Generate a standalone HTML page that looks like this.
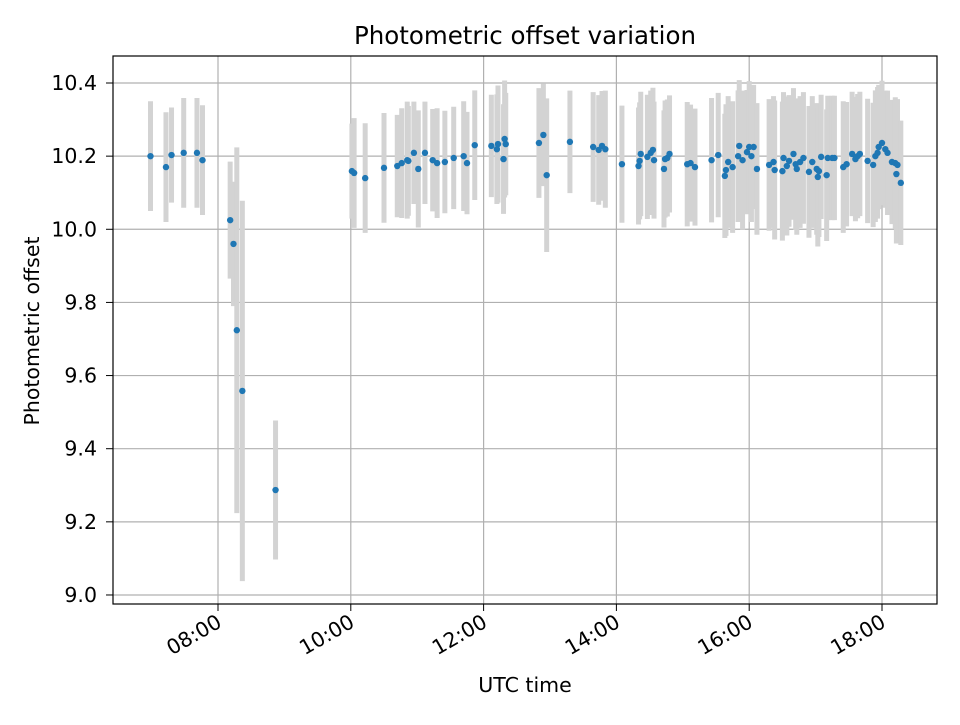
<!DOCTYPE html>
<html><head><meta charset="utf-8"><style>
body{margin:0;background:#fff;font-family:"Liberation Sans","DejaVu Sans",sans-serif}
</style></head><body>
<svg id="chart" width="960" height="720" xmlns="http://www.w3.org/2000/svg" font-family="DejaVu Sans, Liberation Sans, sans-serif"></svg>
<script>
const times=["06:59","07:13","07:18","07:29","07:41","07:46","08:11","08:14","08:17","08:22","08:52",
"10:01","10:03","10:13","10:30","10:42","10:46","10:51","10:52","10:57","11:01","11:07","11:14","11:18","11:25","11:33","11:42","11:45","11:52","12:07","12:12","12:13","12:19","12:20","12:18","12:50","12:54","12:57","13:18","13:39","13:44","13:47","13:50","14:05",
"14:20","14:21","14:22","14:28","14:31","14:33","14:34","14:43","14:44","14:46","14:48","15:04","15:07","15:11","15:26","15:32","15:38","15:39","15:41","15:45","15:50","15:51","15:54","15:58","16:00","16:02","16:04","16:07","16:18","16:22","16:23","16:30","16:31","16:34","16:36","16:40","16:42","16:43","16:46","16:49","16:54","16:57","17:01","17:02","17:03","17:05","17:10","17:11","17:15","17:17","17:25","17:28","17:33","17:36","17:38","17:40","17:47","17:52","17:54","17:56","17:57","18:00","18:03","18:05","18:09","18:12","18:14","18:13","18:17"];
const values=[10.200,10.170,10.203,10.209,10.209,10.189,10.025,9.960,9.724,9.558,9.287,
10.159,10.154,10.140,10.168,10.173,10.181,10.189,10.187,10.209,10.165,10.209,10.189,10.181,10.184,10.195,10.200,10.181,10.230,10.228,10.219,10.233,10.247,10.233,10.192,10.236,10.258,10.148,10.239,10.225,10.217,10.228,10.219,10.178,
10.173,10.187,10.206,10.198,10.209,10.217,10.189,10.165,10.192,10.195,10.206,10.178,10.181,10.170,10.189,10.203,10.146,10.162,10.184,10.170,10.200,10.228,10.189,10.211,10.225,10.200,10.225,10.165,10.176,10.184,10.162,10.159,10.195,10.173,10.187,10.206,10.178,10.165,10.184,10.195,10.157,10.184,10.165,10.143,10.159,10.198,10.148,10.195,10.195,10.195,10.170,10.178,10.206,10.192,10.200,10.206,10.187,10.176,10.200,10.209,10.225,10.236,10.219,10.209,10.184,10.181,10.176,10.151,10.127];
const errors=[0.15,0.15,0.13,0.15,0.15,0.15,0.16,0.17,0.50,0.52,0.19,
0.13,0.15,0.15,0.15,0.14,0.15,0.16,0.15,0.14,0.16,0.14,0.14,0.15,0.14,0.14,0.15,0.14,0.15,0.14,0.15,0.16,0.16,0.14,0.15,0.15,0.14,0.21,0.14,0.15,0.15,0.15,0.16,0.16,
0.16,0.16,0.17,0.17,0.17,0.17,0.16,0.16,0.16,0.16,0.16,0.17,0.16,0.16,0.17,0.17,0.17,0.18,0.18,0.18,0.18,0.18,0.19,0.17,0.18,0.18,0.17,0.18,0.18,0.18,0.19,0.19,0.18,0.19,0.18,0.18,0.18,0.18,0.18,0.18,0.18,0.18,0.18,0.19,0.18,0.17,0.18,0.17,0.17,0.17,0.18,0.17,0.17,0.17,0.17,0.17,0.17,0.17,0.18,0.18,0.17,0.17,0.16,0.17,0.17,0.18,0.18,0.19,0.17];
const yTicks=[9.0,9.2,9.4,9.6,9.8,10.0,10.2,10.4];
const xTickLabels=["08:00","10:00","12:00","14:00","16:00","18:00"];

const svg=document.getElementById('chart');
const NS="http://www.w3.org/2000/svg";
const L=113,R=937,T=56,B=604;
function toH(s){const p=s.split(':');return +p[0]+(+p[1])/60;}
function xs(h){return 218+(h-8)*66.4;}
function ys(v){return 83+(10.4-v)*365.7;}
function mk(tag,attrs,parent){const e=document.createElementNS(NS,tag);for(const k in attrs)e.setAttribute(k,attrs[k]);(parent||svg).appendChild(e);return e;}

const grid=mk('g',{});


yTicks.forEach(v=>{mk('line',{x1:L,x2:R,y1:ys(v),y2:ys(v),stroke:'#b0b0b0','stroke-width':1.2},grid);});
xTickLabels.forEach(s=>{const x=xs(toH(s));mk('line',{x1:x,x2:x,y1:T,y2:B,stroke:'#b0b0b0','stroke-width':1.2},grid);});

const eb=mk('g',{});


times.forEach((t,i)=>{const x=xs(toH(t));
 const l=mk('line',{x1:x,x2:x,y1:ys(values[i]+errors[i]),y2:ys(values[i]-errors[i]),stroke:'#d3d3d3','stroke-width':5},eb);
 
 });
const pts=mk('g',{});


times.forEach((t,i)=>{const c=mk('circle',{cx:xs(toH(t)),cy:ys(values[i]),r:3.2,fill:'#1f77b4'},pts);
 
 });

const frame=mk('rect',{x:L,y:T,width:R-L,height:B-T,fill:'none',stroke:'#000','stroke-width':1.2});



const ya=mk('g',{});


yTicks.forEach(v=>{const y=ys(v);mk('line',{x1:L-7,x2:L,y1:y,y2:y,stroke:'#000'},ya);
 const tx=mk('text',{x:L-16,y:y+7,'text-anchor':'end','font-size':20.5},ya);tx.textContent=v.toFixed(1);
 
 });
const xa=mk('g',{});


xTickLabels.forEach(s=>{const x=xs(toH(s));mk('line',{x1:x,x2:x,y1:B,y2:B+7,stroke:'#000'},xa);
 const tx=mk('text',{x:x+5,y:B+22,'text-anchor':'end','font-size':20.5,transform:`rotate(-30 ${x+5} ${B+22})`},xa);tx.textContent=s;
 
 });

const title=mk('text',{x:525,y:44,'text-anchor':'middle','font-size':24.5});title.textContent='Photometric offset variation';


const xt=mk('text',{x:525,y:692,'text-anchor':'middle','font-size':20.5});xt.textContent='UTC time';


const yt=mk('text',{x:39,y:331,'text-anchor':'middle','font-size':20.5,transform:'rotate(-90 39 331)'});yt.textContent='Photometric offset';


</script>
</body></html>
